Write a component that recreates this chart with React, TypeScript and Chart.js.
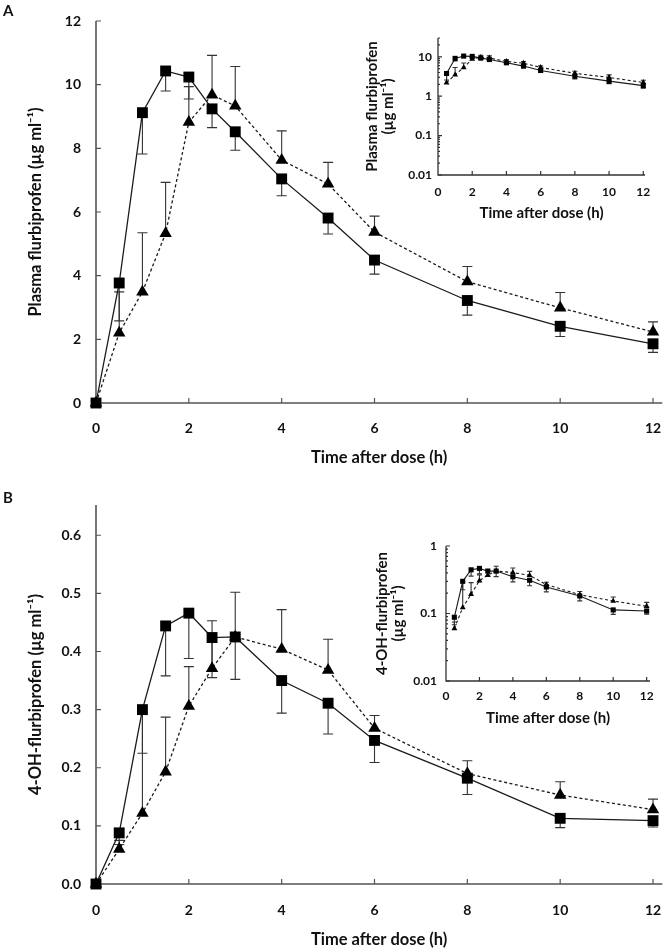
import React, { useEffect, useRef } from 'react';
import { Chart, registerables } from 'chart.js';

Chart.register(...registerables);

const FONT = 'Lato, "Open Sans", "DejaVu Sans", sans-serif';

// ---- data ----
const times = [0, 0.5, 1, 1.5, 2, 2.5, 3, 4, 5, 6, 8, 10, 12];

const plasmaSquare = [0, 3.77, 9.12, 10.43, 10.24, 9.24, 8.52, 7.04, 5.81, 4.49, 3.22, 2.41, 1.86];
const plasmaSquareErr = [null, 2.58, 7.82, 9.8, 9.55, 8.65, 7.94, 6.51, 5.31, 4.05, 2.76, 2.09, 1.59];
const plasmaTriangle = [0, 2.2, 3.49, 5.33, 8.82, 9.68, 9.33, 7.63, 6.88, 5.37, 3.81, 2.99, 2.23];
const plasmaTriangleErr = [null, 3.49, 5.35, 6.93, 9.94, 10.92, 10.57, 8.55, 7.56, 5.87, 4.29, 3.47, 2.55];

const ohSquare = [0, 0.088, 0.3, 0.444, 0.466, 0.424, 0.425, 0.35, 0.311, 0.247, 0.182, 0.113, 0.109];
const ohSquareErr = [null, 0.068, 0.225, 0.358, 0.388, 0.355, 0.352, 0.294, 0.258, 0.209, 0.154, 0.097, 0.098];
const ohTriangle = [0, 0.06, 0.122, 0.193, 0.306, 0.371, 0.425, 0.404, 0.368, 0.268, 0.19, 0.153, 0.128];
const ohTriangleErr = [null, 0.075, 0.295, 0.287, 0.374, 0.453, 0.502, 0.472, 0.421, 0.29, 0.212, 0.176, 0.146];

const xTicks = [0, 2, 4, 6, 8, 10, 12];
const plasmaTicks = [0, 2, 4, 6, 8, 10, 12];
const ohTicks = [0, 0.1, 0.2, 0.3, 0.4, 0.5, 0.6];
const plasmaLogTicks = [0.01, 0.1, 1, 10];
const ohLogTicks = [0.01, 0.1, 1];

const xTitle = 'Time after dose (h)';
const plasmaTitle = 'Plasma flurbiprofen (µg ml⁻¹)';
const plasmaTitleLines = ['Plasma flurbiprofen', '(µg ml⁻¹)'];
const ohTitle = '4-OH-flurbiprofen (µg ml⁻¹)';
const ohTitleLines = ['4-OH-flurbiprofen', '(µg ml⁻¹)'];

// ---- plugins ----
const frame = {
  id: 'frame',
  beforeDatasetsDraw(chart: any, _a: any, o: any) {
    const { ctx, chartArea: ca, scales } = chart;
    const x = scales.x;
    const y = scales.y;
    ctx.save();
    ctx.strokeStyle = o.color;
    ctx.lineWidth = o.width;
    ctx.beginPath();
    ctx.moveTo(ca.left, ca.top);
    ctx.lineTo(ca.left, ca.bottom);
    ctx.lineTo(ca.right, ca.bottom);
    ctx.stroke();
    ctx.lineWidth = o.tickWidth;
    ctx.beginPath();
    for (const v of o.xTicks) {
      if (v === 0) continue;
      const px = x.getPixelForValue(v);
      ctx.moveTo(px, ca.bottom);
      ctx.lineTo(px, ca.bottom - o.tickLen);
    }
    for (const v of o.yTicks) {
      const py = y.getPixelForValue(v);
      ctx.moveTo(ca.left, py);
      ctx.lineTo(ca.left + o.tickLen, py);
    }
    if (o.logMinor) {
      for (const dec of o.yTicks) {
        for (let k = 2; k <= 9; k++) {
          const v = dec * k;
          if (v > y.max) break;
          const py = y.getPixelForValue(v);
          ctx.moveTo(ca.left, py);
          ctx.lineTo(ca.left + o.minorLen, py);
        }
      }
    }
    ctx.stroke();
    ctx.restore();
  },
};

const errorBars = {
  id: 'errorBars',
  beforeDatasetsDraw(chart: any, _a: any, o: any) {
    const { ctx, scales } = chart;
    const x = scales.x;
    const y = scales.y;
    ctx.save();
    ctx.strokeStyle = o.color;
    ctx.lineWidth = o.width;
    chart.data.datasets.forEach((ds: any) => {
      const errs = ds.errorTo;
      if (!errs) return;
      ds.data.forEach((p: any, i: number) => {
        const e = errs[i];
        if (e == null) return;
        const px = x.getPixelForValue(p.x);
        const py = y.getPixelForValue(p.y);
        const pe = y.getPixelForValue(e);
        ctx.beginPath();
        ctx.moveTo(px, py);
        ctx.lineTo(px, pe);
        ctx.moveTo(px - o.cap / 2, pe);
        ctx.lineTo(px + o.cap / 2, pe);
        ctx.stroke();
      });
    });
    ctx.restore();
  },
};

type Spec = {
  w: number;
  h: number;
  area: { left: number; top: number; right: number; bottom: number };
  xMax: number;
  log: boolean;
  yMin: number;
  yMax: number;
  yTicks: number[];
  yFmt: (v: number) => string;
  sq: number[];
  sqErr: (number | null)[];
  tri: number[];
  triErr: (number | null)[];
  sqR: number;
  triR: number;
  cap: number;
  lineW: number;
  tickSize: number;
  titleSize: number;
  titleLH: number;
  yTitle: string | string[];
  yTitlePad: number;
  xTitlePad: number;
  yTickPad: number;
  xTickPad: number;
  tickLen: number;
  axisColor: string;
  axisW: number;
};

function makeConfig(s: Spec): any {
  const idx = times.map((_, i) => i).filter((i) => !s.log || times[i] > 0);
  const pts = (vals: number[]) => idx.map((i) => ({ x: times[i], y: vals[i] }));
  const errs = (vals: (number | null)[]) => idx.map((i) => vals[i]);
  const tickFont = { family: FONT, size: s.tickSize, weight: 'bold' as const };
  const titleFont = { family: FONT, size: s.titleSize, weight: 'bold' as const, lineHeight: s.titleLH };
  return {
    type: 'line',
    data: {
      datasets: [
        {
          data: pts(s.tri),
          errorTo: errs(s.triErr),
          borderColor: '#1a1a1a',
          borderWidth: s.lineW,
          borderDash: [3, 2.5],
          pointStyle: 'triangle',
          pointRadius: s.triR,
          pointBackgroundColor: '#000',
          pointBorderColor: '#000',
          pointBorderWidth: 0,
          clip: false,
          tension: 0,
        },
        {
          data: pts(s.sq),
          errorTo: errs(s.sqErr),
          borderColor: '#1a1a1a',
          borderWidth: s.lineW,
          pointStyle: 'rect',
          pointRadius: s.sqR,
          pointBackgroundColor: '#000',
          pointBorderColor: '#000',
          pointBorderWidth: 0,
          clip: false,
          tension: 0,
        },
      ],
    },
    options: {
      responsive: false,
      animation: false,
      events: [],
      layout: { padding: { left: 0, top: s.area.top, right: s.w - s.area.right, bottom: 0 } },
      plugins: {
        legend: { display: false },
        tooltip: { enabled: false },
        frame: { color: s.axisColor, width: s.axisW, tickWidth: 1.2, xTicks, yTicks: s.yTicks, tickLen: s.tickLen, logMinor: s.log, minorLen: 2 },
        errorBars: { color: '#333', width: 1.1, cap: s.cap },
      },
      scales: {
        x: {
          type: 'linear',
          min: 0,
          max: s.xMax,
          afterBuildTicks: (sc: any) => {
            sc.ticks = xTicks.map((v) => ({ value: v }));
          },
          afterFit: (sc: any) => {
            sc.height = s.h - s.area.bottom;
            sc.paddingLeft = 0;
            sc.paddingRight = 0;
          },
          grid: { display: false, drawTicks: false },
          border: { display: false },
          ticks: {
            font: tickFont,
            color: '#111',
            padding: s.xTickPad,
            maxRotation: 0,
            autoSkip: false,
            callback: (v: any) => String(v),
          },
          title: {
            display: true,
            text: xTitle,
            font: titleFont,
            color: '#111',
            padding: { top: 0, bottom: s.xTitlePad },
          },
        },
        y: {
          type: s.log ? 'logarithmic' : 'linear',
          min: s.yMin,
          max: s.yMax,
          afterBuildTicks: (sc: any) => {
            sc.ticks = s.yTicks.map((v) => ({ value: v }));
          },
          afterFit: (sc: any) => {
            sc.width = s.area.left;
            sc.paddingTop = 0;
            sc.paddingBottom = 0;
          },
          grid: { display: false, drawTicks: false },
          border: { display: false },
          ticks: {
            font: tickFont,
            color: '#111',
            padding: s.yTickPad,
            autoSkip: false,
            callback: (v: any) => s.yFmt(Number(v)),
          },
          title: {
            display: true,
            text: s.yTitle,
            font: titleFont,
            color: '#111',
            padding: { top: s.yTitlePad, bottom: 0 },
          },
        },
      },
    },
    plugins: [frame, errorBars],
  };
}

function ChartCanvas(props: { left: number; top: number; width: number; height: number; make: () => any }) {
  const ref = useRef<HTMLCanvasElement>(null);
  useEffect(() => {
    const chart = new Chart(ref.current as HTMLCanvasElement, props.make());
    return () => chart.destroy();
  }, []);
  return (
    <canvas
      ref={ref}
      width={props.width}
      height={props.height}
      style={{ position: 'absolute', left: props.left, top: props.top, width: props.width, height: props.height }}
    />
  );
}

const logFmt = (v: number) => (v >= 1 ? String(Math.round(v)) : v >= 0.1 ? '0.1' : '0.01');

const mainA = () =>
  makeConfig({
    w: 670, h: 470,
    area: { left: 96, top: 21, right: 667, bottom: 403 },
    xMax: 12.2, log: false, yMin: 0, yMax: 12, yTicks: plasmaTicks, yFmt: (v) => String(v),
    sq: plasmaSquare, sqErr: plasmaSquareErr, tri: plasmaTriangle, triErr: plasmaTriangleErr,
    sqR: 7.7, triR: 7.2, cap: 10, lineW: 1.3,
    tickSize: 14, titleSize: 16.5, titleLH: 1.2, yTitle: plasmaTitle, yTitlePad: 26, xTitlePad: 2,
    yTickPad: 15, xTickPad: 17.4, tickLen: 5, axisColor: '#555', axisW: 1.6,
  });

const mainB = () =>
  makeConfig({
    w: 670, h: 478,
    area: { left: 96, top: 35, right: 667, bottom: 414 },
    xMax: 12.2, log: false, yMin: 0, yMax: 0.652, yTicks: ohTicks, yFmt: (v) => v.toFixed(1),
    sq: ohSquare, sqErr: ohSquareErr, tri: ohTriangle, triErr: ohTriangleErr,
    sqR: 7.7, triR: 7.2, cap: 10, lineW: 1.3,
    tickSize: 14, titleSize: 16.5, titleLH: 1.2, yTitle: ohTitle, yTitlePad: 26, xTitlePad: -1.5,
    yTickPad: 15, xTickPad: 18.4, tickLen: 5, axisColor: '#555', axisW: 1.6,
  });

const insetA = () =>
  makeConfig({
    w: 325, h: 215,
    area: { left: 98, top: 23, right: 305, bottom: 160 },
    xMax: 12.1, log: true, yMin: 0.01, yMax: 30, yTicks: plasmaLogTicks, yFmt: logFmt,
    sq: plasmaSquare, sqErr: plasmaSquareErr, tri: plasmaTriangle, triErr: plasmaTriangleErr,
    sqR: 3.6, triR: 3.4, cap: 5, lineW: 1.1,
    tickSize: 12, titleSize: 15, titleLH: 1.1, yTitle: plasmaTitleLines, yTitlePad: 23.5, xTitlePad: 8.5,
    yTickPad: 6, xTickPad: 10.4, tickLen: 4, axisColor: '#333', axisW: 1.3,
  });

const insetB = () =>
  makeConfig({
    w: 325, h: 215,
    area: { left: 106, top: 26, right: 310, bottom: 161 },
    xMax: 12.2, log: true, yMin: 0.01, yMax: 1, yTicks: ohLogTicks, yFmt: logFmt,
    sq: ohSquare, sqErr: ohSquareErr, tri: ohTriangle, triErr: ohTriangleErr,
    sqR: 3.6, triR: 3.4, cap: 5, lineW: 1.1,
    tickSize: 12, titleSize: 15, titleLH: 1.1, yTitle: ohTitleLines, yTitlePad: 33.5, xTitlePad: 8.5,
    yTickPad: 9, xTickPad: 8.4, tickLen: 4, axisColor: '#333', axisW: 1.3,
  });

const labelStyle: React.CSSProperties = {
  position: 'absolute',
  fontFamily: FONT,
  fontWeight: 'bold',
  fontSize: 15,
  color: '#111',
  lineHeight: '15px',
};

export default function App() {
  return (
    <div style={{ position: 'absolute', left: 0, top: 0, width: 670, height: 948, overflow: 'hidden', background: '#fff' }}>
      <ChartCanvas left={0} top={0} width={670} height={470} make={mainA} />
      <ChartCanvas left={340} top={15} width={325} height={215} make={insetA} />
      <ChartCanvas left={0} top={470} width={670} height={478} make={mainB} />
      <ChartCanvas left={340} top={520} width={325} height={215} make={insetB} />
      <div style={{ ...labelStyle, left: 3, top: 3 }}>A</div>
      <div style={{ ...labelStyle, left: 3, top: 490 }}>B</div>
    </div>
  );
}
